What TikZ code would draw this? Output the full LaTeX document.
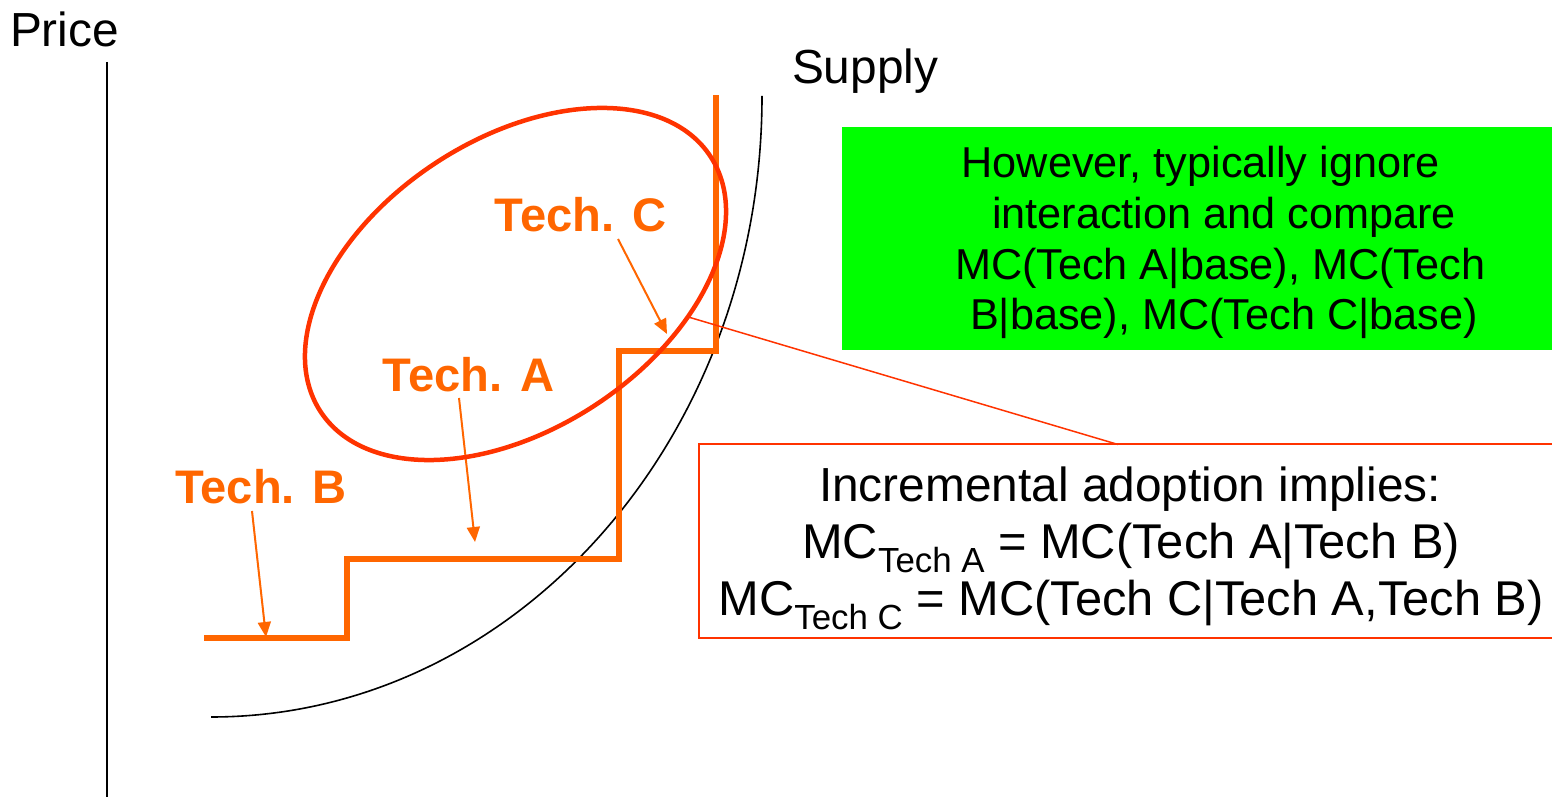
\documentclass[tikz,border=0pt]{standalone}
\usepackage{fontspec}
\setmainfont{Liberation Sans}
\usetikzlibrary{arrows.meta,shapes.geometric,calc}
\definecolor{techorange}{HTML}{FF6600}
\definecolor{ringred}{HTML}{FF3300}
\definecolor{notegreen}{HTML}{00FF00}
% lowered, smaller label used as a subscript after "MC"
\newcommand\techsub[1]{\raisebox{-14bp}{\fontsize{35}{35}\selectfont #1}}
\begin{document}
\begin{tikzpicture}[x=1bp,y=1bp,
  every node/.style={inner sep=0pt, outer sep=0pt},
  bigtext/.style={font=\fontsize{48}{57}\selectfont},
  mctext/.style={font=\fontsize{49}{57}\selectfont},
  notetext/.style={font=\fontsize{43.4}{51}\selectfont},
  techlabel/.style={font=\fontsize{47.3}{56}\selectfont\bfseries, text=techorange},
  techarrow/.style={draw=techorange, line width=2bp, -{Triangle[length=15bp,width=13bp]}},
  stepline/.style={draw=techorange, line width=6bp},
]
\useasboundingbox (0,0) rectangle (1552,797);

% price axis and its label
\draw[line width=1.6bp] (107,735) -- (107,0);
\node[bigtext, anchor=base west] (price) at (10,750.3) {Price};

% supply curve
\draw[line width=1.6bp] (211,80) arc[start angle=-90, end angle=0, x radius=551, y radius=621];
\node[bigtext, anchor=base west] (supply) at (792,713.5) {Supply};

% marginal cost steps of the three technologies
\draw[stepline] (204,159) -- (347,159) -- (347,238) -- (619,238) -- (619,446) -- (716,446) -- (716,702);

% technology labels pointing at their steps
\node[techlabel, anchor=base] (tb) at (261,293) {Tech. B};
\node[techlabel, anchor=base] (ta) at (468.5,405) {Tech. A};
\node[techlabel, anchor=base] (tc) at (580.5,565) {Tech. C};
\coordinate (tbTip) at (266,160);
\coordinate (taTip) at (475,255);
\coordinate (tcTip) at (667,463);
\draw[techarrow] ([xshift=-9bp,yshift=-7bp]tb.base) -- (tbTip);
\draw[techarrow] ([xshift=-9.5bp,yshift=-6bp]ta.base) -- (taTip);
\draw[techarrow] ([xshift=37.5bp,yshift=-7bp]tc.base) -- (tcTip);

% highlight ring round the upper steps
\node[draw=ringred, line width=4.5bp, ellipse, minimum width=466bp, minimum height=290bp, rotate=33.2] (ell) at (515.5,513) {};

% green note
\node[fill=notegreen, minimum width=710bp, minimum height=223bp, anchor=north west] (gb) at (842,670) {};
\node[notetext, anchor=base west] (g1) at (961.6,619) {However, typically ignore};
\node[notetext, anchor=base west] (g2) at (992,568) {interaction and compare};
\node[notetext, anchor=base west] (g3) at (955,517) {MC(Tech A|base), MC(Tech};
\node[notetext, anchor=base west] (g4) at (970,467) {B|base), MC(Tech C|base)};

% callout box for incremental adoption
\node[draw=ringred, line width=2bp, fill=white, minimum width=862bp, minimum height=194bp] (rb) at (1130,255.5) {};
\draw[ringred, line width=1.5bp] (ell.-44) -- ([xshift=-12bp]rb.north);
\node[bigtext, anchor=base] (r1) at (1130,295) {Incremental adoption implies:};
\node[mctext, anchor=base] (r2) at (1131,238) {MC\techsub{Tech A} = MC(Tech A|Tech B)};
\node[mctext, anchor=base] (r3) at (1131,181) {MC\techsub{Tech C} = MC(Tech C|Tech A,Tech B)};
\end{tikzpicture}
\end{document}
